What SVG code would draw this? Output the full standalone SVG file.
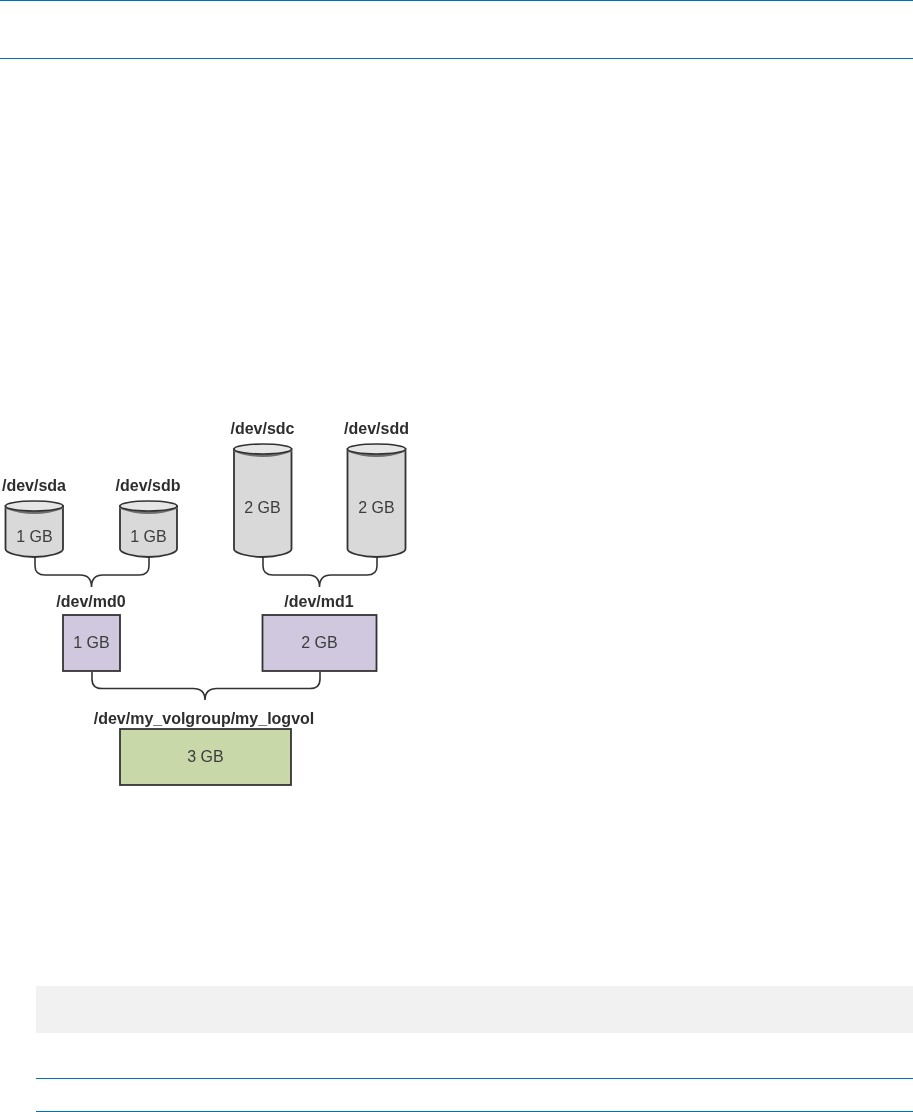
<svg xmlns="http://www.w3.org/2000/svg" width="913" height="1112" viewBox="0 0 913 1112">
<defs>
<filter id="soft" x="-5%" y="-5%" width="110%" height="110%"><feGaussianBlur stdDeviation="0.6"/></filter>
<path id="cyl-top" d="M-28.750 0Q0 11 28.750 0"/>
</defs>
<style>
.rule{fill:#0070c0}
.lbl{font-family:"Liberation Sans",Arial,sans-serif;font-size:16px;font-weight:bold;fill:#2e2e2e;text-anchor:middle}
.val{font-family:"Liberation Sans",Arial,sans-serif;font-size:16px;fill:#3c3c3c;text-anchor:middle}
.body{fill:#d9d9d9;stroke:#333;stroke-width:1.8}
.top{fill:#e6e6e6;stroke:#333;stroke-width:1.6}
.band{fill:none;stroke:#6e6e6e;stroke-width:3}
.md{fill:#d0c8de;stroke:#333;stroke-width:1.8}
.lv{fill:#c9d8a8;stroke:#333;stroke-width:1.8}
.brace{fill:none;stroke:#333;stroke-width:1.6}
</style>
<rect width="913" height="1112" fill="#fff"/>
<g id="page-rules">
<rect class="rule" x="0" y="0" width="913" height="1"/>
<rect class="rule" x="0" y="58" width="913" height="1"/>
<rect x="36" y="986" width="877" height="47" fill="#f1f1f1"/>
<rect class="rule" x="36" y="1078" width="877" height="1"/>
<rect class="rule" x="36" y="1111" width="877" height="1"/>
</g>
<g filter="url(#soft)">
<g id="connectors">
<path class="brace" d="M35 557V566Q35 575 45 575H80Q91.500 575 91.500 587Q91.500 575 103 575H139Q149 575 149 566V557"/>
<path class="brace" d="M263 557V566Q263 575 273 575H308Q319.500 575 319.500 587Q319.500 575 331 575H367Q377 575 377 566V557"/>
<path class="brace" d="M92 672V679Q92 688.500 102 688.500H193Q205 688.500 205 700Q205 688.500 217 688.500H310Q320 688.500 320 679V672"/>
</g>
<g id="sda">
<text class="lbl" x="34" y="491">/dev/sda</text>
<path class="body" d="M5.500 506V549C5.500 553 20 557 34.250 557C48.500 557 63 553 63 549V506Z"/>
<use href="#cyl-top" class="band" x="34.250" y="507"/>
<ellipse class="top" cx="34.250" cy="506" rx="28.750" ry="5"/>
<text class="val" x="34.500" y="542">1 GB</text>
</g>
<g id="sdb">
<text class="lbl" x="148" y="491">/dev/sdb</text>
<path class="body" d="M120 506V549C120 553 134 557 148.500 557C163 557 177 553 177 549V506Z"/>
<use href="#cyl-top" class="band" x="148.500" y="507"/>
<ellipse class="top" cx="148.500" cy="506" rx="28.500" ry="5"/>
<text class="val" x="148.500" y="542">1 GB</text>
</g>
<g id="sdc">
<text class="lbl" x="262.500" y="434">/dev/sdc</text>
<path class="body" d="M234 449V549C234 553 248.500 557 262.750 557C277 557 291.500 553 291.500 549V449Z"/>
<use href="#cyl-top" class="band" x="262.750" y="450"/>
<ellipse class="top" cx="262.750" cy="449" rx="28.750" ry="5"/>
<text class="val" x="262.500" y="513">2 GB</text>
</g>
<g id="sdd">
<text class="lbl" x="376.500" y="434">/dev/sdd</text>
<path class="body" d="M347.500 449V549C347.500 553 362 557 376.500 557C391 557 405.500 553 405.500 549V449Z"/>
<use href="#cyl-top" class="band" x="376.500" y="450"/>
<ellipse class="top" cx="376.500" cy="449" rx="29" ry="5"/>
<text class="val" x="376.500" y="513">2 GB</text>
</g>
<g id="md0">
<text class="lbl" x="91" y="607">/dev/md0</text>
<rect class="md" x="63" y="615" width="57" height="56"/>
<text class="val" x="91.500" y="648">1 GB</text>
</g>
<g id="md1">
<text class="lbl" x="319" y="607">/dev/md1</text>
<rect class="md" x="262.500" y="615" width="114" height="56"/>
<text class="val" x="319.500" y="648">2 GB</text>
</g>
<g id="logvol">
<text class="lbl" x="204" y="724">/dev/my_volgroup/my_logvol</text>
<rect class="lv" x="120" y="729" width="171" height="56"/>
<text class="val" x="205.500" y="762">3 GB</text>
</g>
</g>
</svg>
